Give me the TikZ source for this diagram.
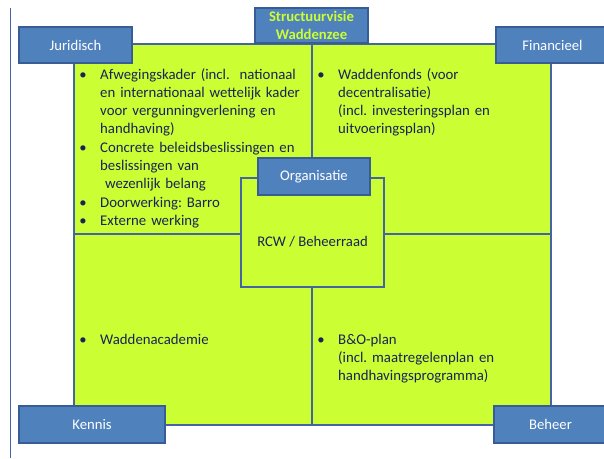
\documentclass[tikz,border=0pt]{standalone}
\usepackage{fontspec}
\setmainfont{Carlito}
\frenchspacing
\definecolor{waddengreen}{RGB}{204,255,51}
\definecolor{tagblue}{RGB}{79,129,189}
\definecolor{tagline}{RGB}{56,93,150}
\definecolor{gridblue}{RGB}{68,100,165}
\definecolor{textnavy}{RGB}{25,35,85}
\tikzset{
  grid/.style={draw=gridblue, line width=1.2pt},
  tagbox/.style={draw=tagline, line width=1.3pt, fill=tagblue, text=white, inner sep=0pt,
    font=\fontsize{14.7}{17.5}\selectfont},
  item/.style={anchor=base west, inner sep=0pt, align=left, text width=215pt, text=textnavy,
    font=\fontsize{14.8}{18.3}\selectfont},
  dot/.style={anchor=base, inner sep=0pt, text=textnavy, font=\fontsize{14.7}{18.3}\selectfont}
}
\begin{document}
\begin{tikzpicture}[x=1pt,y=-1pt]
\useasboundingbox (0,0) rectangle (604,458);
\draw[gridblue, line width=0.8pt] (10.5,8)--(10.5,458);
% quadrants
\draw[grid, fill=waddengreen] (74,44) rectangle (551,425);
\draw[grid] (312,44)--(312,178);
\draw[grid] (312,287)--(312,425);
\draw[grid] (74,234)--(241,234);
\draw[grid] (384,234)--(551,234);
\draw[grid, fill=waddengreen] (241,178) rectangle (384,287);
% juridisch
\node[dot] (d1) at (83,79) {\textbullet};
\node[item] (jur1) at (100,79) {Afwegingskader (incl.\ \ nationaal\\en internationaal wettelijk kader\\voor vergunningverlening en\\handhaving)};
\node[dot] (d2) at (83,152.2) {\textbullet};
\node[item] (jur2) at (100,152.2) {Concrete beleidsbeslissingen en\\beslissingen van\\\ wezenlijk belang};
\node[dot] (d3) at (83,207.1) {\textbullet};
\node[item] (jur3) at (100,207.1) {Doorwerking: Barro};
\node[dot] (d4) at (83,225.4) {\textbullet};
\node[item] (jur4) at (100,225.4) {Externe werking};
% financieel
\node[dot] (d5) at (321,79) {\textbullet};
\node[item] (fin1) at (338,79) {Waddenfonds (voor\\decentralisatie)\\(incl. investeringsplan en\\uitvoeringsplan)};
% kennis
\node[dot] (d6) at (83,344) {\textbullet};
\node[item] (ken1) at (100,344) {Waddenacademie};
% beheer
\node[dot] (d7) at (321,344) {\textbullet};
\node[item] (beh1) at (338,344) {B\&O-plan\\(incl. maatregelenplan en\\handhavingsprogramma)};
% organisatie
\node[text=textnavy, font=\fontsize{14.7}{18.3}\selectfont] (rcw) at (312.5,242) {RCW / Beheerraad};
% tags
\node[tagbox, minimum width=113pt, minimum height=36pt] (jur) at (75.5,45) {Juridisch};
\node[tagbox, minimum width=113pt, minimum height=35pt, align=center, text=waddengreen,
  font=\fontsize{14.7}{17.5}\selectfont\bfseries] (svw) at (311.5,25.5) {Structuurvisie\\Waddenzee};
\node[tagbox, minimum width=113pt, minimum height=36pt] (fin) at (552.5,45) {Financieel};
\node[tagbox, minimum width=112pt, minimum height=37pt] (org) at (314,176.5) {Organisatie};
\node[tagbox, minimum width=146pt, minimum height=37pt] (ken) at (92,424.5) {Kennis};
\node[tagbox, minimum width=113pt, minimum height=37pt] (beh) at (550.5,424.5) {Beheer};
\end{tikzpicture}
\end{document}
